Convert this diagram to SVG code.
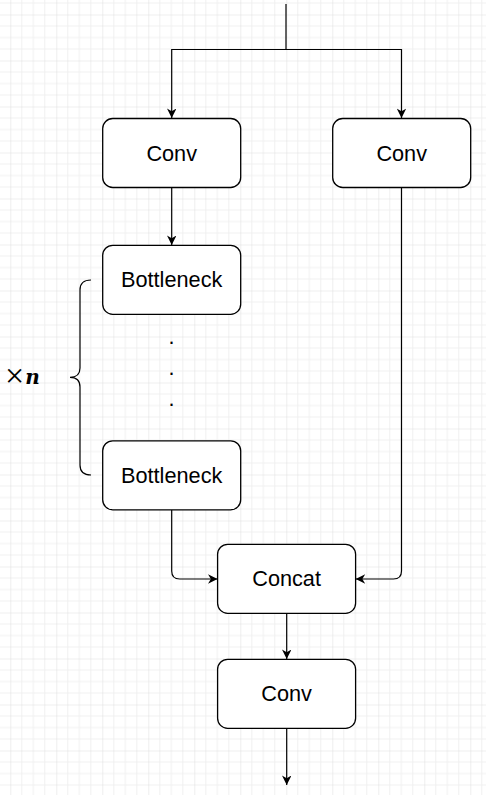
<svg xmlns="http://www.w3.org/2000/svg" width="486" height="795" viewBox="0 0 486 795">
  <style>
    .box { fill: #ffffff; stroke: #000000; stroke-width: 1.3; }
    .lbl { font-family: "Liberation Sans", Arial, sans-serif; font-size: 21.7px; fill: #000000; text-anchor: middle; }
    .edge { fill: none; stroke: #000000; stroke-width: 1.2; }
    .brace { fill: none; stroke: #000000; stroke-width: 1.2; }
  </style>
  <defs>
    <pattern id="grid" patternUnits="userSpaceOnUse" x="10.3" y="14.5" width="46" height="46">
      <path d="M11.5,0 V46 M23,0 V46 M34.5,0 V46 M0,11.5 H46 M0,23 H46 M0,34.5 H46" stroke="#f0f0f0" stroke-width="1" fill="none"/>
      <path d="M0,0 V46 M0,0 H46" stroke="#dedede" stroke-width="1" fill="none"/>
    </pattern>
    <marker id="arrow" markerUnits="userSpaceOnUse" viewBox="0 0 10 10" refX="10" refY="5" markerWidth="10.5" markerHeight="9.5" orient="auto">
      <path d="M0,0 L10,5 L0,10 L3,5 Z" fill="#000000"/>
    </marker>
  </defs>

  <rect x="0" y="0" width="486" height="795" fill="#ffffff"/>
  <rect x="0" y="0" width="486" height="795" fill="url(#grid)"/>

  <g id="connectors">
    <path class="edge" d="M286,4 V49.5 H171.7 V118" marker-end="url(#arrow)"/>
    <path class="edge" d="M286,49.5 H401.5 V118" marker-end="url(#arrow)"/>
    <path class="edge" d="M171.7,187.7 V245" marker-end="url(#arrow)"/>
    <path class="edge" d="M171.7,510 V571 Q171.7,579 179.7,579 H217.5" marker-end="url(#arrow)"/>
    <path class="edge" d="M401.5,187.7 V571 Q401.5,579 393.5,579 H355.7" marker-end="url(#arrow)"/>
    <path class="edge" d="M286.7,613.3 V659" marker-end="url(#arrow)"/>
    <path class="edge" d="M286.7,728 V785" marker-end="url(#arrow)"/>
  </g>

  <g id="conv-left">
    <rect class="box" x="102.7" y="118.5" width="138" height="69" rx="10" ry="10"/>
    <text class="lbl" x="171.7" y="160.5">Conv</text>
  </g>
  <g id="conv-right">
    <rect class="box" x="332.7" y="118.5" width="138" height="69" rx="10" ry="10"/>
    <text class="lbl" x="401.7" y="160.5">Conv</text>
  </g>
  <g id="bottleneck-1">
    <rect class="box" x="102.7" y="245.3" width="138" height="69" rx="10" ry="10"/>
    <text class="lbl" x="171.7" y="287">Bottleneck</text>
  </g>
  <g id="dots">
    <text class="lbl" x="171.5" y="343.5">.</text>
    <text class="lbl" x="171.5" y="374.5">.</text>
    <text class="lbl" x="171.5" y="405.5">.</text>
  </g>
  <g id="bottleneck-2">
    <rect class="box" x="102.7" y="440.8" width="138" height="69" rx="10" ry="10"/>
    <text class="lbl" x="171.7" y="482.5">Bottleneck</text>
  </g>
  <g id="repeat-brace">
    <path class="brace" d="M91,280 Q80,280 80,290 V368 Q80,377.3 70,377.3 Q80,377.3 80,387 V465 Q80,475 91,475"/>
    <text x="5" y="387" fill="#000000"><tspan font-family="Liberation Serif, serif" font-size="34">×</tspan><tspan font-family="DejaVu Serif, serif" font-size="20" font-style="italic" font-weight="bold" dy="-3.5" dx="1">n</tspan></text>
  </g>
  <g id="concat">
    <rect class="box" x="217.6" y="544.3" width="138" height="69" rx="10" ry="10"/>
    <text class="lbl" x="286.6" y="586">Concat</text>
  </g>
  <g id="conv-bottom">
    <rect class="box" x="217.6" y="659.3" width="138" height="69" rx="10" ry="10"/>
    <text class="lbl" x="286.6" y="701">Conv</text>
  </g>
</svg>
